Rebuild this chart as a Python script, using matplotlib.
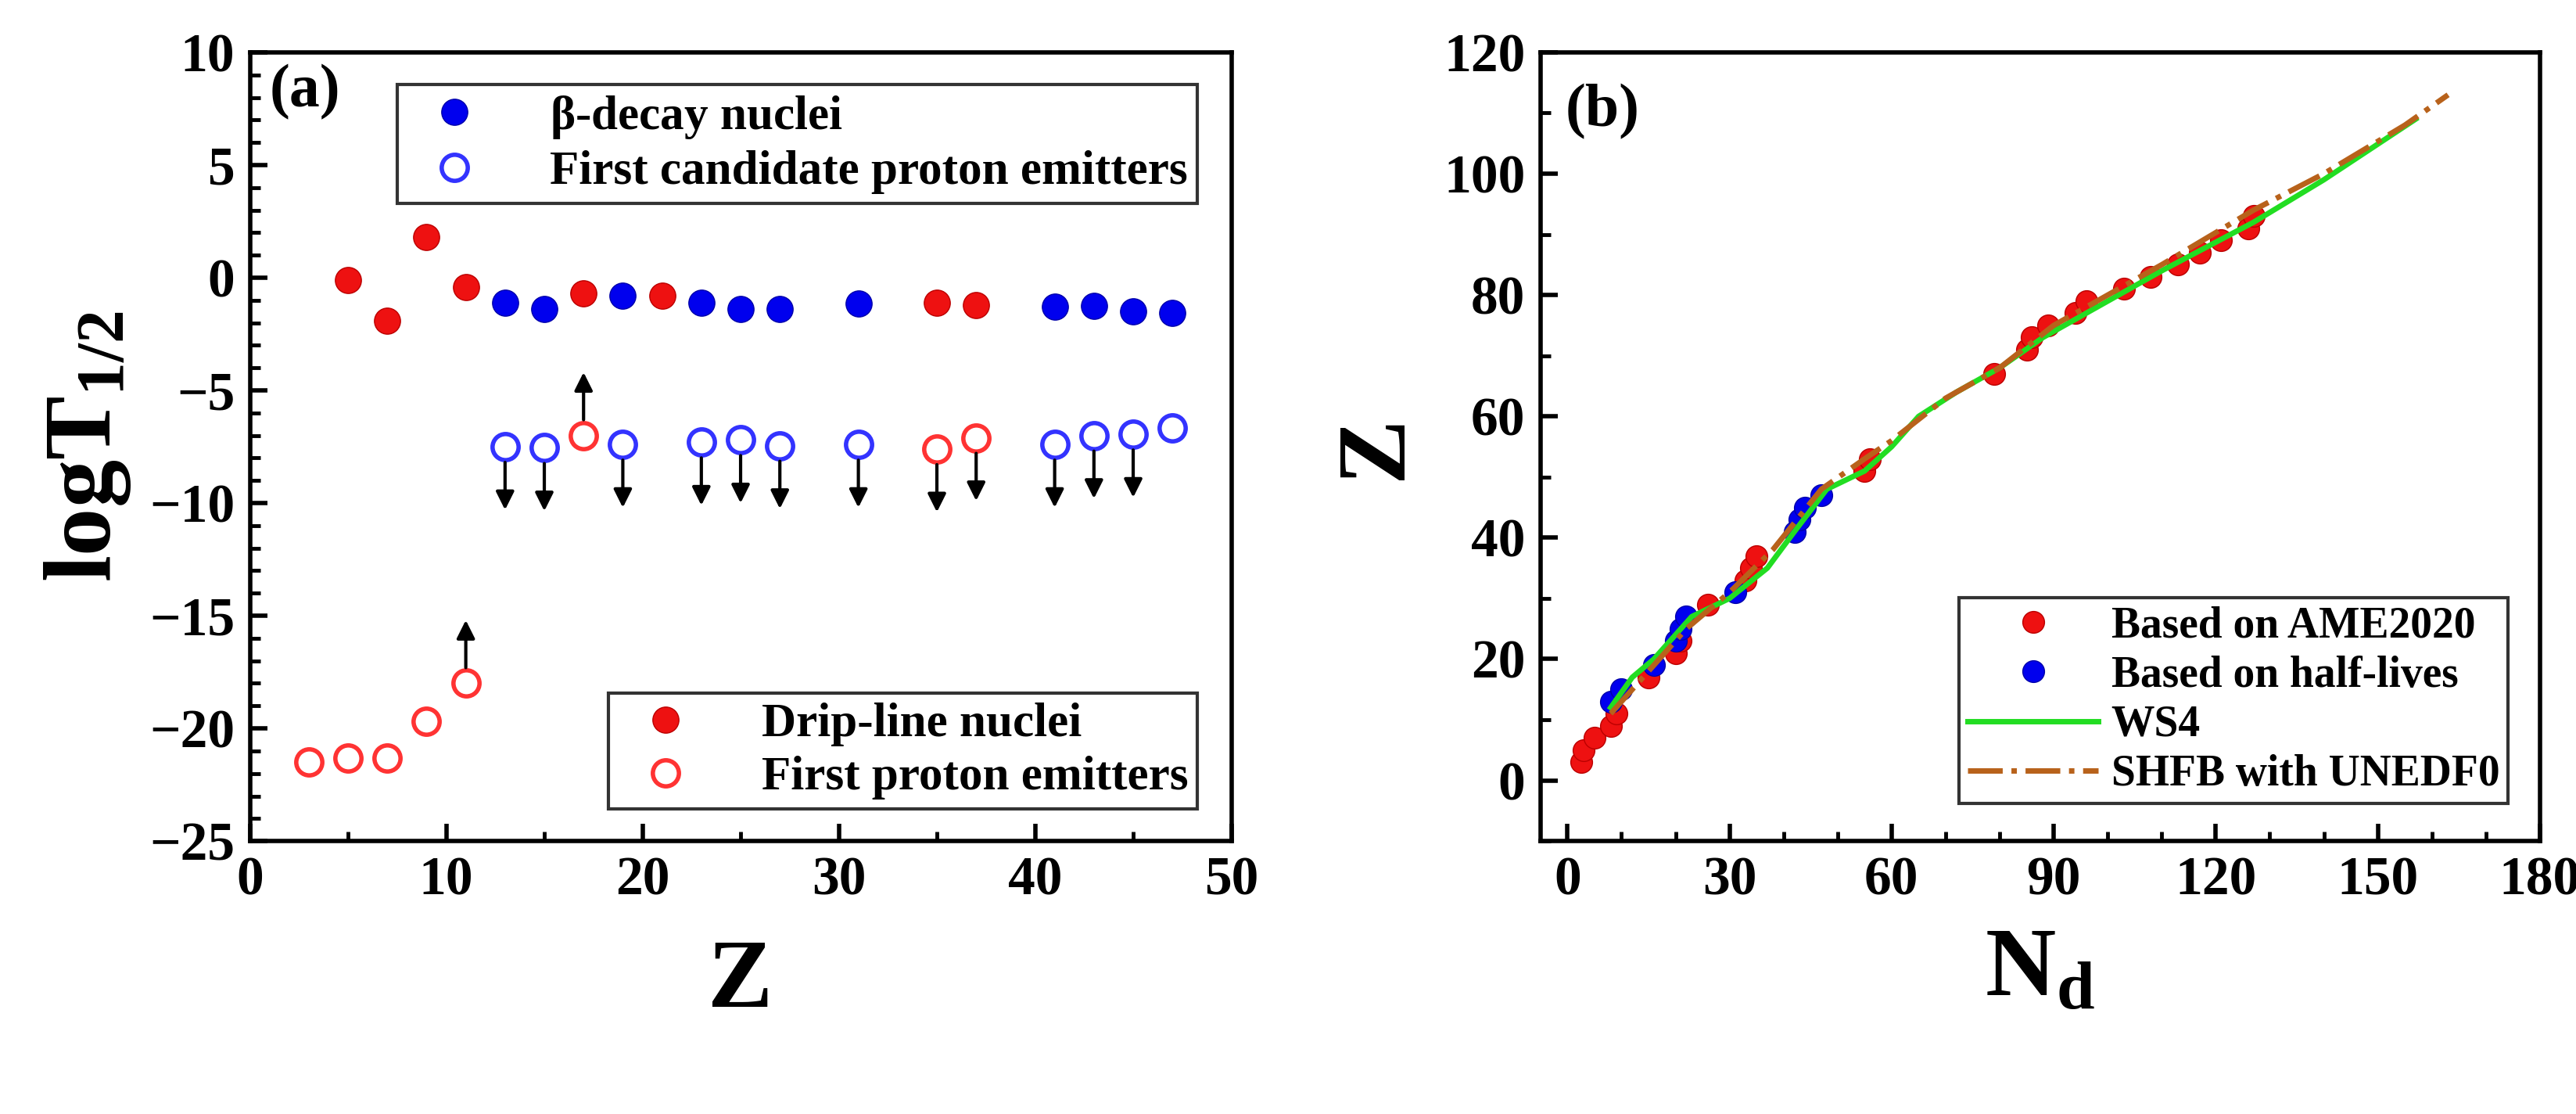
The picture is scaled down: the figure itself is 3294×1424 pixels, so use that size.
import numpy as np
import matplotlib.pyplot as plt
from matplotlib.ticker import MultipleLocator

plt.rcParams['font.family'] = ['Liberation Serif', 'DejaVu Serif']
plt.rcParams['font.weight'] = 'bold'
plt.rcParams['mathtext.fontset'] = 'custom'
plt.rcParams['mathtext.rm'] = 'Liberation Serif:bold'
plt.rcParams['mathtext.bf'] = 'Liberation Serif:bold'
plt.rcParams['mathtext.it'] = 'Liberation Serif:bold'

# panel (a)
drip_z = [5, 7, 9, 11, 17, 21, 35, 37]
drip_t = [-0.1, -1.9, 1.8, -0.4, -0.7, -0.8, -1.1, -1.2]
beta_z = [13, 15, 19, 23, 25, 27, 31, 41, 43, 45, 47]
beta_t = [-1.1, -1.4, -0.8, -1.1, -1.4, -1.4, -1.15, -1.3, -1.25, -1.5, -1.55]
fpe_z = [3, 5, 7, 9, 11, 17, 35, 37]
fpe_t = [-21.5, -21.3, -21.3, -19.7, -18.0, -7.0, -7.6, -7.1]
fpe_dir = [0, 0, 0, 0, 1, 1, -1, -1]
fcpe_z = [13, 15, 19, 23, 25, 27, 31, 41, 43, 45, 47]
fcpe_t = [-7.5, -7.55, -7.4, -7.3, -7.2, -7.45, -7.4, -7.4, -7.0, -6.95, -6.65]
fcpe_dir = [-1, -1, -1, -1, -1, -1, -1, -1, -1, -1, 0]

# panel (b)
ame_n = [2.5, 3, 5, 8, 9, 15, 20, 21, 26, 33, 34, 35, 55, 56, 79, 85, 86, 89,
         94, 96, 103, 108, 113, 117, 121, 126, 127]
ame_z = [3, 5, 7, 9, 11, 17, 21, 23, 29, 33, 35, 37, 51, 53, 67, 71, 73, 75,
         77, 79, 81, 83, 85, 87, 89, 91, 93]
hl_n = [8, 10, 16, 20, 21, 22, 31, 42, 43, 44, 47]
hl_z = [13, 15, 19, 23, 25, 27, 31, 41, 43, 45, 47]
ws4_n = [8, 12, 16, 20, 23, 30, 37, 42, 48, 55, 60, 65, 72, 80, 88, 100, 110,
         127, 140, 157]
ws4_z = [12, 17, 20, 24, 27, 30, 35, 41, 48, 51, 55, 60, 64, 68, 73, 79, 84,
         92, 99, 109]
shfb_n = [8, 15, 22, 30, 38, 47, 55, 60, 70, 80, 90, 100, 110, 127, 140, 155, 163]
shfb_z = [11, 18, 25, 31, 38, 48, 53, 56, 63, 68, 75, 80, 85, 94, 100, 108, 113]

fig = plt.figure(figsize=(32.94, 14.24), dpi=100)
ax1 = fig.add_axes([0.097, 0.245, 0.381, 0.708])
ax2 = fig.add_axes([0.598, 0.245, 0.388, 0.708])

ms = 24
ax1.plot(beta_z, beta_t, 'o', color='#0000ee', ms=ms, mec='#0000aa', label=r'$\beta$-decay nuclei')
ax1.plot(fcpe_z, fcpe_t, 'o', mfc='none', mec='#3333ff', mew=4, ms=ms, label='First candidate proton emitters')
ax1.plot(drip_z, drip_t, 'o', color='#ee1111', ms=ms, mec='#bb0000', label='Drip-line nuclei')
ax1.plot(fpe_z, fpe_t, 'o', mfc='none', mec='#ff3333', mew=4, ms=ms, label='First proton emitters')
for zs, ts, ds in [(fpe_z, fpe_t, fpe_dir), (fcpe_z, fcpe_t, fcpe_dir)]:
    for z, t, d in zip(zs, ts, ds):
        if d == 0:
            continue
        y0 = t + 0.6 * d
        ax1.annotate('', xy=(z, y0 + 2.3 * d), xytext=(z, y0),
                     arrowprops=dict(arrowstyle='-|>', color='black', lw=3, mutation_scale=35))

h, l = ax1.get_legend_handles_labels()
leg1 = ax1.legend(h[:2], l[:2], loc='upper right', fontsize=44, frameon=True, fancybox=False,
                  edgecolor='black', borderpad=0.2, handletextpad=1.0, labelspacing=0.2,
                  bbox_to_anchor=(0.99, 0.99))
leg1.get_frame().set_linewidth(3)
ax1.add_artist(leg1)
leg2 = ax1.legend(h[2:], l[2:], loc='lower right', fontsize=44, frameon=True, fancybox=False,
                  edgecolor='black', borderpad=0.2, handletextpad=1.0, labelspacing=0.2,
                  bbox_to_anchor=(0.99, 0.01))
leg2.get_frame().set_linewidth(3)

ax1.set_xlim(0, 50)
ax1.set_ylim(-25, 10)
ax1.xaxis.set_major_locator(MultipleLocator(10))
ax1.xaxis.set_minor_locator(MultipleLocator(5))
ax1.yaxis.set_major_locator(MultipleLocator(5))
ax1.yaxis.set_minor_locator(MultipleLocator(1))
ax1.set_xlabel('Z', fontsize=90, fontweight='bold', labelpad=30)
ax1.set_ylabel(r'$\mathrm{logT_{1/2}}$', fontsize=88, labelpad=15)
ax1.text(0.02, 0.985, '(a)', transform=ax1.transAxes, fontsize=56, fontweight='bold', va='top')

ax2.plot(ws4_n, ws4_z, '-', color='#22dd22', lw=5, label='WS4', zorder=3)
ax2.plot(shfb_n, shfb_z, '-.', color='#b8621b', lw=5, label='SHFB with UNEDF0', zorder=3)
ax2.plot(ame_n, ame_z, 'o', color='#ee1111', mec='#bb0000', ms=20, label='Based on AME2020', zorder=2)
ax2.plot(hl_n, hl_z, 'o', color='#0000ee', mec='#0000aa', ms=20, label='Based on half-lives', zorder=2)
h, l = ax2.get_legend_handles_labels()
leg3 = ax2.legend([h[2], h[3], h[0], h[1]], [l[2], l[3], l[0], l[1]], loc='lower right', fontsize=40,
                  frameon=True, fancybox=False, edgecolor='black', borderpad=0.2,
                  labelspacing=0.2, handlelength=3.0, handletextpad=0.3,
                  bbox_to_anchor=(0.99, 0.02))
leg3.get_frame().set_linewidth(3)
ax2.set_xlim(-5, 180)
ax2.set_ylim(-10, 120)
ax2.xaxis.set_major_locator(MultipleLocator(30))
ax2.xaxis.set_minor_locator(MultipleLocator(10))
ax2.yaxis.set_major_locator(MultipleLocator(20))
ax2.yaxis.set_minor_locator(MultipleLocator(10))
ax2.set_xlabel(r'$\mathrm{N_d}$', fontsize=90, labelpad=20)
ax2.set_ylabel('Z', fontsize=90, fontweight='bold', labelpad=20)
ax2.text(0.025, 0.96, '(b)', transform=ax2.transAxes, fontsize=56, fontweight='bold', va='top')

for ax in (ax1, ax2):
    for s in ax.spines.values():
        s.set_linewidth(4)
    ax.tick_params(which='major', direction='in', length=16, width=4, labelsize=50, pad=14)
    ax.tick_params(which='minor', direction='in', length=9, width=3.5)
    for lab in ax.get_xticklabels() + ax.get_yticklabels():
        lab.set_fontweight('bold')

fig.savefig('out.png', dpi=100)
